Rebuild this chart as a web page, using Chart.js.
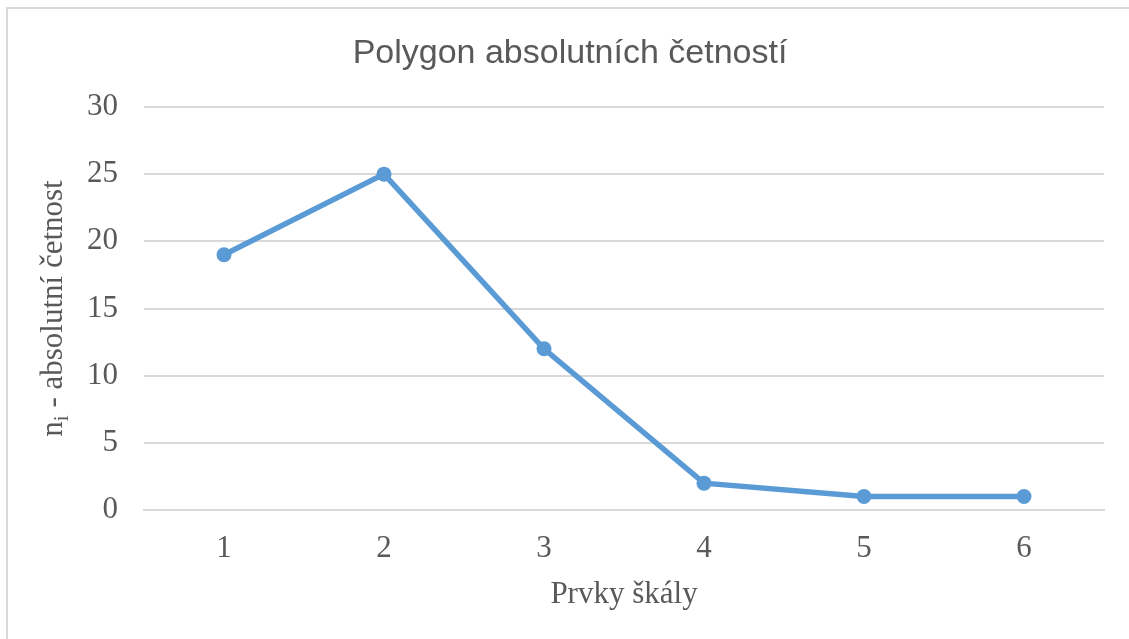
<!DOCTYPE html>
<html>
<head>
<meta charset="utf-8">
<script src="https://cdn.jsdelivr.net/npm/chart.js"></script>
<style>
  html, body { margin: 0; padding: 0; background: #fff; }
  #chart { display: block; }
</style>
</head>
<body>
<canvas id="chart" width="1129" height="639"></canvas>
<script>
// data
const categories = ['1', '2', '3', '4', '5', '6'];
const counts = [19, 25, 12, 2, 1, 1];
const yTicks = [0, 5, 10, 15, 20, 25, 30];

const chartTitle = 'Polygon absolutních četností';
const xTitle = 'Prvky škály';

const textColor = '#595959';
const gridColor = '#d9d9d9';
const lineColor = '#5b9bd5';

// frame, chart title, and y-axis title with subscript "i"
const decor = {
    id: 'decor',
    beforeDraw(chart) {
        const ctx = chart.ctx;
        ctx.save();
        ctx.fillStyle = '#fff';
        ctx.fillRect(0, 0, chart.width, chart.height);
        ctx.strokeStyle = gridColor;
        ctx.lineWidth = 2;
        ctx.beginPath();
        ctx.moveTo(7, chart.height);
        ctx.lineTo(7, 8);
        ctx.lineTo(chart.width, 8);
        ctx.stroke();
        ctx.restore();
    },
    afterDraw(chart) {
        const ctx = chart.ctx;
        const area = chart.chartArea;
        ctx.save();
        ctx.fillStyle = textColor;

        // title
        ctx.font = '34px "Liberation Sans", Arial, sans-serif';
        ctx.textAlign = 'center';
        ctx.textBaseline = 'alphabetic';
        ctx.fillText(chartTitle, 570, 63);

        // y-axis title
        const main = '31px "Liberation Serif", serif';
        const sub = '21px "Liberation Serif", serif';
        ctx.textAlign = 'left';
        ctx.translate(62, (area.top + area.bottom) / 2);
        ctx.rotate(-Math.PI / 2);
        ctx.font = main;
        const w1 = ctx.measureText('n').width;
        const rest = ' - absolutní četnost';
        const w3 = ctx.measureText(rest).width;
        ctx.font = sub;
        const w2 = ctx.measureText('i').width;
        let x = -(w1 + w2 + w3) / 2;
        ctx.font = main;
        ctx.fillText('n', x, 0);
        x += w1;
        ctx.font = sub;
        ctx.fillText('i', x, 6);
        x += w2;
        ctx.font = main;
        ctx.fillText(rest, x, 0);
        ctx.restore();
    }
};

new Chart(document.getElementById('chart'), {
    type: 'line',
    data: {
        labels: categories,
        datasets: [{
            data: counts,
            borderColor: lineColor,
            backgroundColor: lineColor,
            borderWidth: 5.5,
            pointRadius: 7.5,
            pointHoverRadius: 7.5,
            pointBorderWidth: 0,
            tension: 0
        }]
    },
    options: {
        responsive: false,
        animation: false,
        layout: { padding: { left: 0, right: 25, top: 107, bottom: 0 } },
        plugins: {
            legend: { display: false },
            tooltip: { enabled: false },
            title: { display: false }
        },
        scales: {
            x: {
                offset: true,
                grid: { display: false, drawTicks: false },
                border: { display: true, color: gridColor, width: 2 },
                ticks: {
                    color: textColor,
                    padding: 20,
                    font: { family: '"Liberation Serif", serif', size: 31 }
                },
                title: {
                    display: true,
                    text: xTitle,
                    color: textColor,
                    font: { family: '"Liberation Serif", serif', size: 31 },
                    padding: { top: 0, bottom: 26 }
                },
                afterFit(scale) { scale.height = 129; }
            },
            y: {
                min: 0,
                max: 30,
                afterBuildTicks(scale) { scale.ticks = yTicks.map(v => ({ value: v })); },
                grid: { color: gridColor, lineWidth: 2, drawTicks: false },
                border: { display: false },
                ticks: {
                    color: textColor,
                    padding: 26,
                    font: { family: '"Liberation Serif", serif', size: 31 }
                },
                afterFit(scale) { scale.width = 144; }
            }
        }
    },
    plugins: [decor]
});
</script>
</body>
</html>
